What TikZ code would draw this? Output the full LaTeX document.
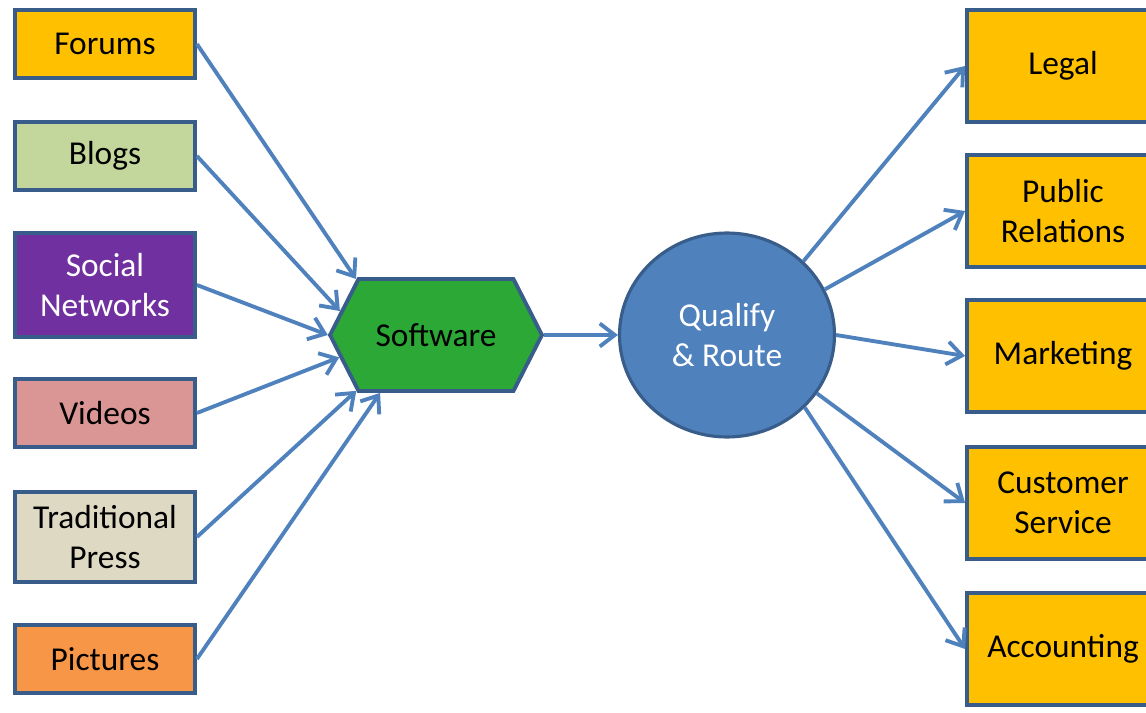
\documentclass[tikz,border=0pt]{standalone}
\usepackage{fontspec}
\setmainfont{Carlito}
\usetikzlibrary{arrows.meta,shapes.geometric,shapes.symbols}
\definecolor{edgeblue}{HTML}{385D8A}
\definecolor{linkblue}{HTML}{4F81BD}
\definecolor{gold}{HTML}{FFC000}
\definecolor{blogsgreen}{HTML}{C3D69B}
\definecolor{socialpurple}{HTML}{7030A0}
\definecolor{videospink}{HTML}{D99694}
\definecolor{presstan}{HTML}{DDD9C3}
\definecolor{picturesorange}{HTML}{F79646}
\definecolor{softgreen}{RGB}{44,168,54}
\begin{document}
\begin{tikzpicture}[
    x=0.02cm, y=-0.02cm,
    font=\fontsize{19}{23}\selectfont,
    source/.style={rectangle, draw=edgeblue, line width=2.2pt, minimum width=3.6cm,
        minimum height=1.36cm, text width=3.3cm, align=center, inner sep=0pt},
    target/.style={rectangle, draw=edgeblue, line width=2.2pt, fill=gold, minimum width=3.84cm,
        minimum height=2.24cm, text width=3.5cm, align=center, inner sep=0pt},
    engine/.style={signal, signal to=west and east, signal pointer angle=126,
        draw=edgeblue, line width=2.2pt, fill=softgreen, minimum width=4.24cm,
        minimum height=2.24cm, inner sep=0pt},
    router/.style={ellipse, draw=edgeblue, line width=1.8pt, fill=linkblue, text=white,
        minimum width=4.3cm, minimum height=4.08cm, align=center, inner sep=0pt},
    feed/.style={draw=linkblue, line width=2.2pt, -{Straight Barb[length=3mm,width=4.6mm]}}
]
\useasboundingbox (0,0) rectangle (1146,713);
\clip (0,0) rectangle (1146,713);

% sources
\node (Forums) [source, fill=gold] at (105,44) {Forums};
\node (Blogs) [source, fill=blogsgreen] at (105,156) {Blogs};
\node (Social) [source, fill=socialpurple, text=white, minimum height=2.08cm] at (105,285) {Social\\Networks};
\node (Videos) [source, fill=videospink] at (105,413) {Videos};
\node (Press) [source, fill=presstan, minimum height=1.8cm] at (105,537) {Traditional\\Press};
\node (Pictures) [source, fill=picturesorange] at (105,659) {Pictures};

% middle
\node (Software) [engine] at (436,335) {Software};
\node (Route) [router] at (727,335) {Qualify\\\& Route};

% departments
\node (Legal) [target] at (1063,66) {Legal};
\node (Relations) [target] at (1063,211) {Public\\Relations};
\node (Marketing) [target] at (1063,356) {Marketing};
\node (Service) [target] at (1063,503) {Customer\\Service};
\node (Accounting) [target] at (1063,649) {Accounting};

% links
\draw [feed] (Forums.east) -- (Software.145);
\draw [feed] (Blogs.east) -- (Software.166);
\draw [feed] (Social.east) -- (Software.180);
\draw [feed] (Videos.east) -- (Software.193);
\draw [feed] (Press.east) -- (Software.215);
\draw [feed] (Pictures.east) -- (Software.226);
\draw [feed] (Software.east) -- (Route.west);
\draw [feed] (Route.44) -- (Legal.west);
\draw [feed] (Route.25) -- (Relations.west);
\draw [feed] (Route.0) -- (Marketing.west);
\draw [feed] (Route.-33) -- (Service.west);
\draw [feed] (Route.-43) -- (Accounting.west);

\end{tikzpicture}
\end{document}
